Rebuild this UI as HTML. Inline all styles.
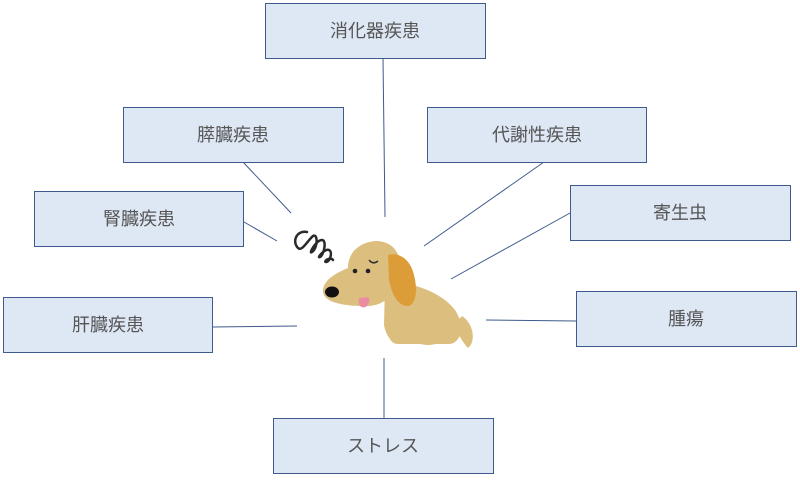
<!DOCTYPE html>
<html><head><meta charset="utf-8"><style>
html,body{margin:0;padding:0;background:#fff}
text{font-family:"Liberation Sans","Noto Sans CJK JP",sans-serif;font-size:18px;fill:#555}
</style></head><body>
<svg width="800" height="477" viewBox="0 0 800 477" xmlns="http://www.w3.org/2000/svg">
<g stroke="#3f5a8c" stroke-width="1" fill="none">
<line x1="383" y1="58" x2="385" y2="217"/>
<line x1="243" y1="162" x2="291" y2="213"/>
<line x1="544" y1="162" x2="424" y2="246"/>
<line x1="244" y1="222" x2="277" y2="241"/>
<line x1="570" y1="213" x2="451" y2="279"/>
<line x1="212" y1="327" x2="297" y2="326"/>
<line x1="576" y1="321" x2="486" y2="320"/>
<line x1="384" y1="358" x2="384" y2="418"/>
</g>
<g fill="#dee8f5" stroke="#3f5a8c" stroke-width="1">
<rect x="265.5" y="3.5" width="220" height="55"/>
<rect x="123.5" y="107.5" width="220" height="55"/>
<rect x="427.5" y="107.5" width="219" height="55"/>
<rect x="34.5" y="191.5" width="209" height="55"/>
<rect x="570.5" y="185.5" width="220" height="55"/>
<rect x="3.5" y="297.5" width="209" height="55"/>
<rect x="576.5" y="291.5" width="220" height="55"/>
<rect x="273.5" y="418.5" width="220" height="55"/>
</g>
<g text-anchor="middle">
<text x="375" y="37">消化器疾患</text>
<text x="233" y="141">膵臓疾患</text>
<text x="537" y="141">代謝性疾患</text>
<text x="139" y="225">腎臓疾患</text>
<text x="680" y="219">寄生虫</text>
<text x="108" y="331">肝臓疾患</text>
<text x="686" y="325">腫瘍</text>
<text x="383" y="452">ストレス</text>
</g>
<g fill="#dcbf7e">
<path d="M462 316 C474 324 476 342 468 348 C462 342 458 332 452 326 Z"/>
<path d="M385 283 C405 280 440 290 455 310 C465 325 462 342 450 344 L400 344 C392 344 386 336 384 325 Z"/>
<ellipse cx="398" cy="335" rx="9" ry="9"/>
<ellipse cx="428" cy="338" rx="14" ry="7"/>
<path d="M323 292 C322 280 338 272 348 268 C348 252 360 242 376 241 C392 241 402 253 400 270 C398 292 386 307 364 306 C342 306 324 302 323 292 Z"/>
</g>
<path d="M388 255 C398 252 410 258 414 275 C418 290 416 305 408 306 C398 306 392 295 389 280 Z" fill="#dc9d38"/>
<ellipse cx="332" cy="292" rx="7" ry="5.5" fill="#111"/>
<circle cx="355" cy="271" r="2.3" fill="#222"/>
<circle cx="368" cy="271" r="2.3" fill="#222"/>
<path d="M369 260 Q373 265 378 261" stroke="#333" stroke-width="1.5" fill="none"/>
<path d="M359 298 C357 305 362 310 367 306 C370 302 370 298 368 297 Z" fill="#e98ea2"/>
<path d="M307 232 C296 230 292 242 298 248 C302 252 308 240 313 236 C318 233 318 248 312 252 C308 255 316 240 322 240 C327 240 324 255 320 257 C316 259 325 248 329 250 C333 252 330 262 326 262 C323 262 330 256 333 260" stroke="#2a2a2a" stroke-width="2.5" fill="none" stroke-linecap="round"/>
</svg>
</body></html>
